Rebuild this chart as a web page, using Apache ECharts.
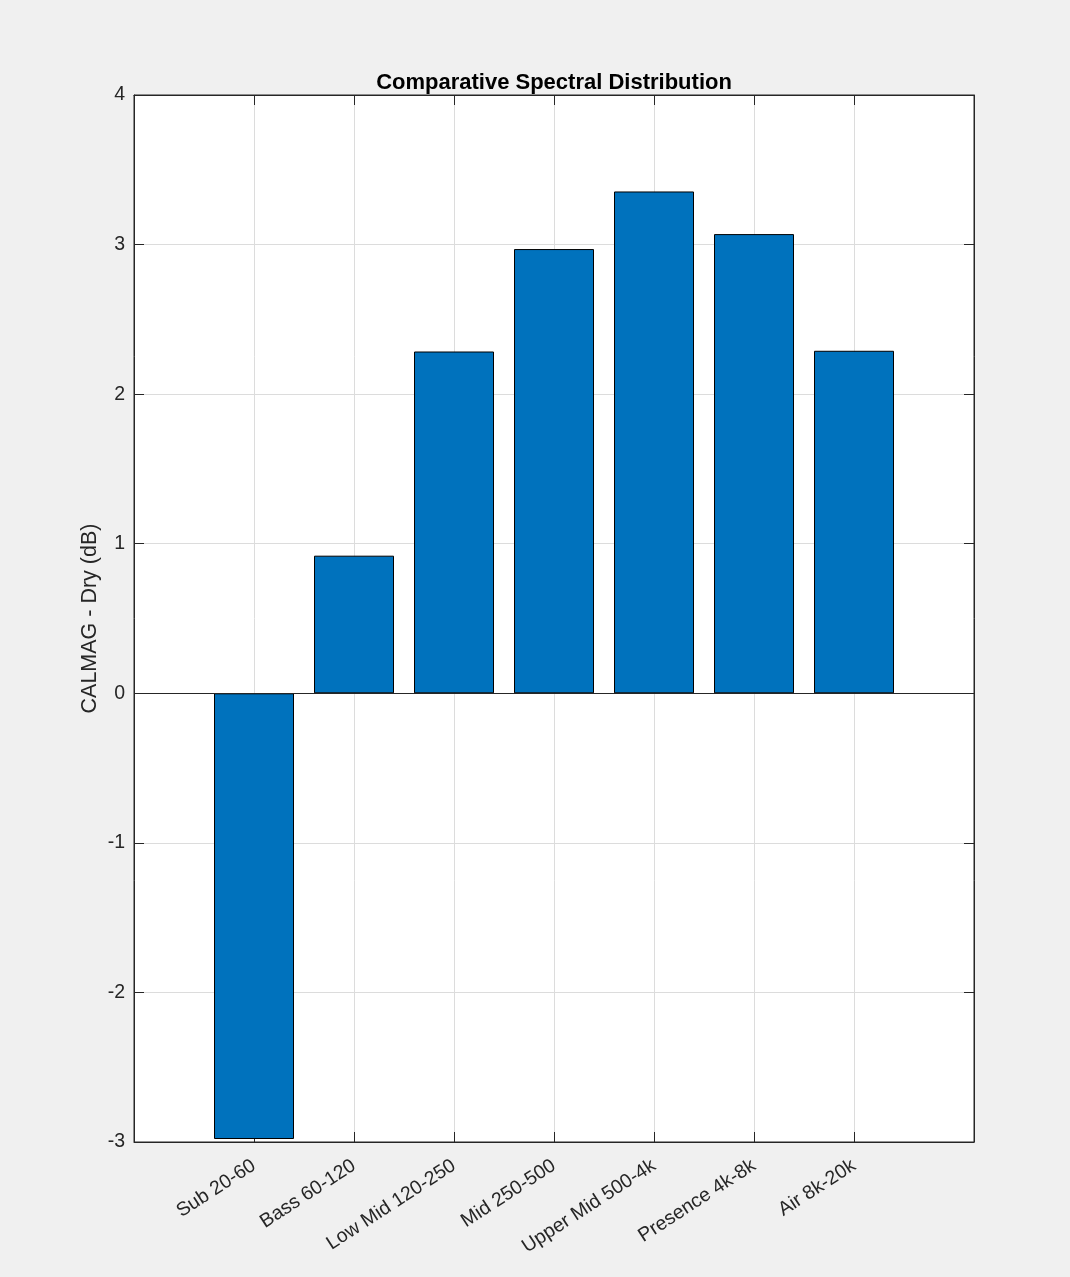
<!DOCTYPE html>
<html>
<head>
<meta charset="utf-8">
<script src="https://cdn.jsdelivr.net/npm/echarts@6/dist/echarts.min.js"></script>
<style>
html, body { margin: 0; padding: 0; background: #f0f0f0; }
#chart { width: 1070px; height: 1277px; }
</style>
</head>
<body>
<div id="chart"></div>
<script>
var bands = ['Sub 20-60', 'Bass 60-120', 'Low Mid 120-250', 'Mid 250-500',
    'Upper Mid 500-4k', 'Presence 4k-8k', 'Air 8k-20k'];
var diffDb = [-2.98, 0.92, 2.285, 2.97, 3.355, 3.07, 2.29];
var bandPos = [1, 2, 3, 4, 5, 6, 7];

var axisColor = '#262626';
var font = 'Liberation Sans, Arial, Helvetica, sans-serif';

var barData = bandPos.map(function (x, i) { return [x, diffDb[i]]; });

var option = {
    backgroundColor: '#f0f0f0',
    animation: false,
    title: {
        text: 'Comparative Spectral Distribution',
        left: 549,
        top: 67,
        textAlign: 'center',
        textStyle: { fontFamily: font, fontSize: 22, fontWeight: 'bold', color: '#000' }
    },
    grid: {
        left: 134, right: 96, top: 95, bottom: 135,
        show: true, backgroundColor: '#fff', borderColor: axisColor, borderWidth: 1
    },
    xAxis: [{
        type: 'value',
        min: -0.2,
        max: 8.2,
        axisLine: { show: true, onZero: false, lineStyle: { color: axisColor } },
        axisTick: { show: true, inside: true, length: 10, customValues: bandPos, lineStyle: { color: axisColor } },
        splitLine: { show: true, lineStyle: { color: '#dcdcdc' } },
        axisLabel: {
            customValues: bandPos,
            rotate: 33,
            margin: 22,
            fontFamily: font,
            fontSize: 19.5,
            color: axisColor,
            formatter: function (v) { return bands[Math.round(v) - 1] || ''; }
        }
    }, {
        type: 'value',
        position: 'top',
        min: -0.2,
        max: 8.2,
        axisLine: { show: true, onZero: false, lineStyle: { color: axisColor } },
        axisTick: { show: true, inside: true, length: 10, customValues: bandPos, lineStyle: { color: axisColor } },
        axisLabel: { show: false },
        splitLine: { show: false }
    }],
    yAxis: [{
        type: 'value',
        min: -3,
        max: 4,
        interval: 1,
        name: 'CALMAG - Dry (dB)',
        nameLocation: 'middle',
        nameGap: 33,
        nameMoveOverlap: false,
        nameTextStyle: { fontFamily: font, fontSize: 21.5, color: axisColor },
        axisLine: { show: true, onZero: false, lineStyle: { color: axisColor } },
        axisTick: { show: true, inside: true, length: 10, lineStyle: { color: axisColor } },
        splitLine: { show: true, lineStyle: { color: '#dcdcdc' } },
        axisLabel: {
            margin: 9,
            fontFamily: font,
            fontSize: 19.5,
            color: axisColor
        }
    }, {
        type: 'value',
        position: 'right',
        min: -3,
        max: 4,
        interval: 1,
        axisLine: { show: true, onZero: false, lineStyle: { color: axisColor } },
        axisTick: { show: true, inside: true, length: 10, lineStyle: { color: axisColor } },
        axisLabel: { show: false },
        splitLine: { show: false }
    }],
    series: [{
        type: 'bar',
        xAxisIndex: 0,
        yAxisIndex: 0,
        barWidth: 80,
        data: barData,
        itemStyle: { color: '#0072bd', borderColor: '#000', borderWidth: 1 },
        markLine: {
            silent: true,
            symbol: 'none',
            label: { show: false },
            lineStyle: { color: axisColor, type: 'solid', width: 1 },
            data: [{ yAxis: 0 }]
        }
    }]
};

var chart = echarts.init(document.getElementById('chart'));
chart.setOption(option);
</script>
</body>
</html>
